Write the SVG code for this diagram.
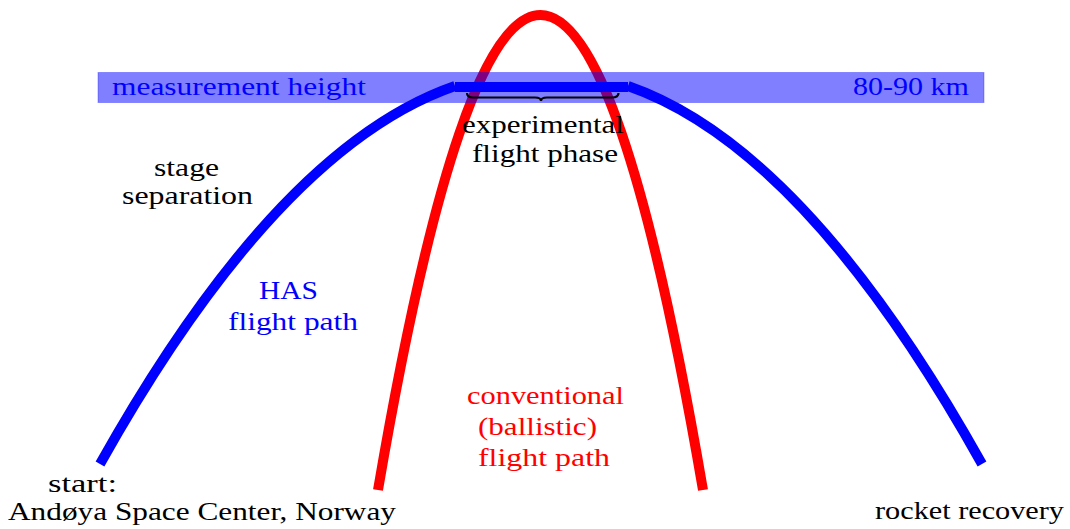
<svg xmlns="http://www.w3.org/2000/svg" width="1070" height="529" viewBox="0 0 1070 529">
<style>
text{font-family:"Liberation Serif","Times New Roman",serif;font-size:26px;}
.k{fill:#000;}
.b{fill:#0000ff;}
.r{fill:#ff0000;}
.path{fill:none;stroke-linecap:butt;stroke-width:10;}
</style>
<rect width="1070" height="529" fill="#fff"/>
<g id="connectors">
<path id="ballistic" class="path" stroke="#ff0000" d="M378,490 Q540.5,-460 703,490"/>
<path id="has-up" class="path" stroke="#0000ff" d="M100,464 Q277.5,147.5 455,86"/>
<path id="has-level" class="path" stroke="#0000ff" stroke-width="9" d="M455,87 L628,87"/>
<path id="has-down" class="path" stroke="#0000ff" d="M628,86 Q805,147.5 982,464"/>
</g>
<g id="band">
<rect x="98" y="72.5" width="886" height="30" fill="#0000ff" fill-opacity="0.5" stroke="#0000ff" stroke-opacity="0.3" stroke-width="1"/>
<text class="b" x="112" y="95" textLength="254" lengthAdjust="spacingAndGlyphs">measurement height</text>
<text class="b" x="853" y="95" textLength="116" lengthAdjust="spacingAndGlyphs">80-90 km</text>
</g>
<g id="phase">
<path d="M467,93 Q467,97.5 473,97.5 L535,97.5 Q541,97.5 541,101 Q541,97.5 547,97.5 L612,97.5 Q618.5,97.5 618.5,93" fill="none" stroke="#000" stroke-width="2.2"/>
<text class="k" x="462" y="133" textLength="162" lengthAdjust="spacingAndGlyphs">experimental</text>
<text class="k" x="472" y="162" textLength="146" lengthAdjust="spacingAndGlyphs">flight phase</text>
</g>
<g id="stage">
<text class="k" x="154" y="176" textLength="65" lengthAdjust="spacingAndGlyphs">stage</text>
<text class="k" x="122" y="204" textLength="131" lengthAdjust="spacingAndGlyphs">separation</text>
</g>
<g id="has-label">
<text class="b" x="259" y="299" textLength="59" lengthAdjust="spacingAndGlyphs">HAS</text>
<text class="b" x="228" y="330" textLength="130" lengthAdjust="spacingAndGlyphs">flight path</text>
</g>
<g id="conv-label">
<text class="r" x="467" y="404" textLength="157" lengthAdjust="spacingAndGlyphs">conventional</text>
<text class="r" x="478" y="435" textLength="119" lengthAdjust="spacingAndGlyphs">(ballistic)</text>
<text class="r" x="478" y="466" textLength="132" lengthAdjust="spacingAndGlyphs">flight path</text>
</g>
<g id="start">
<text class="k" x="48" y="492" textLength="69" lengthAdjust="spacingAndGlyphs">start:</text>
<text class="k" x="8" y="520" textLength="388" lengthAdjust="spacingAndGlyphs">Andøya Space Center, Norway</text>
</g>
<g id="recovery">
<text class="k" x="875" y="519" textLength="189" lengthAdjust="spacingAndGlyphs">rocket recovery</text>
</g>
</svg>
